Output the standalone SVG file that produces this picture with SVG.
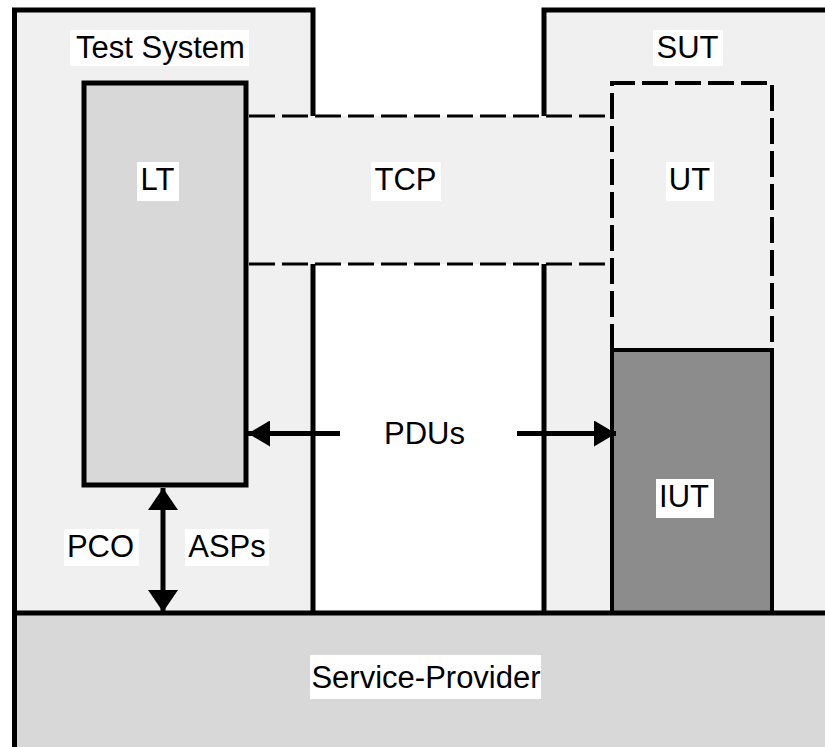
<svg xmlns="http://www.w3.org/2000/svg" width="825" height="747" viewBox="0 0 825 747">
  <style>
    .border { fill: none; stroke: #000; stroke-width: 5; stroke-linecap: butt; stroke-linejoin: miter; }
    .dash { fill: none; stroke: #000; stroke-dasharray: 26 7; }
    .lbl { fill: #fff; }
    .txt { font-family: "Liberation Sans", Arial, sans-serif; font-size: 31px; fill: #000; text-anchor: middle; }
    .conn { stroke: #000; stroke-width: 5; fill: none; }
  </style>
  <defs>
    <marker id="ah" markerUnits="userSpaceOnUse" markerWidth="22" markerHeight="26" refX="22" refY="13" orient="auto-start-reverse" viewBox="0 0 22 26">
      <path d="M0,0 L22,13 L0,26 Z" fill="#000"/>
    </marker>
    <marker id="ahv" markerUnits="userSpaceOnUse" markerWidth="22" markerHeight="30" refX="22" refY="15" orient="auto-start-reverse" viewBox="0 0 22 30">
      <path d="M0,0 L22,15 L0,30 Z" fill="#000"/>
    </marker>
  </defs>
  <rect width="825" height="747" fill="#fff"/>

  <g id="test-system">
    <rect x="14.5" y="10" width="298.5" height="603" fill="#f0f0f0"/>
    <path class="border" d="M14.5,747 V10 H313 V116 M313,264 V613"/>
    <rect class="lbl" x="70" y="30" width="179" height="36"/>
    <text class="txt" x="160.5" y="58">Test System</text>
  </g>

  <g id="sut">
    <rect x="544" y="10" width="290" height="603" fill="#f0f0f0"/>
    <path class="border" d="M544,116 V10 H830 M544,264 V613"/>
    <rect class="lbl" x="653" y="30" width="70" height="36"/>
    <text class="txt" x="687.5" y="58">SUT</text>
  </g>

  <g id="tcp">
    <rect x="248" y="116" width="364" height="148" fill="#f0f0f0"/>
    <path class="dash" stroke-width="3" d="M249,116 H612 M249,264 H612"/>
    <rect class="lbl" x="371" y="162" width="70" height="39"/>
    <text class="txt" x="405.5" y="190">TCP</text>
  </g>

  <g id="ut">
    <rect x="612" y="83" width="160" height="267" fill="#f0f0f0"/>
    <path class="dash" stroke-width="4" d="M612,350 V83 H772 V350"/>
    <rect class="lbl" x="666" y="162" width="48" height="39"/>
    <text class="txt" x="689.5" y="190">UT</text>
  </g>

  <g id="iut">
    <rect x="612" y="350" width="160" height="263" fill="#8c8c8c" stroke="#000" stroke-width="4"/>
    <rect class="lbl" x="656" y="479" width="58" height="39"/>
    <text class="txt" x="684" y="507">IUT</text>
  </g>

  <g id="service-provider">
    <rect x="14.5" y="613" width="820" height="140" fill="#d8d8d8"/>
    <path class="border" d="M14.5,613 H830 M14.5,613 V747"/>
    <rect class="lbl" x="310" y="655" width="231" height="44"/>
    <text class="txt" x="426" y="688">Service-Provider</text>
  </g>

  <g id="lt">
    <rect x="84" y="83" width="162" height="402" fill="#d8d8d8" stroke="#000" stroke-width="5"/>
    <rect class="lbl" x="137" y="162" width="42" height="39"/>
    <text class="txt" x="157.5" y="190">LT</text>
  </g>

  <g id="connectors">
    <line class="conn" x1="340" y1="433.5" x2="248" y2="433.5" marker-end="url(#ah)"/>
    <line class="conn" x1="517" y1="433.5" x2="616" y2="433.5" marker-end="url(#ah)"/>
    <line class="conn" x1="163" y1="488" x2="163" y2="612" marker-start="url(#ahv)" marker-end="url(#ahv)"/>
  </g>

  <g id="labels">
    <text class="txt" x="424.5" y="444">PDUs</text>
    <rect class="lbl" x="64" y="529" width="75" height="37"/>
    <text class="txt" x="100.5" y="557">PCO</text>
    <rect class="lbl" x="185" y="529" width="84" height="37"/>
    <text class="txt" x="227" y="557">ASPs</text>
  </g>
</svg>
